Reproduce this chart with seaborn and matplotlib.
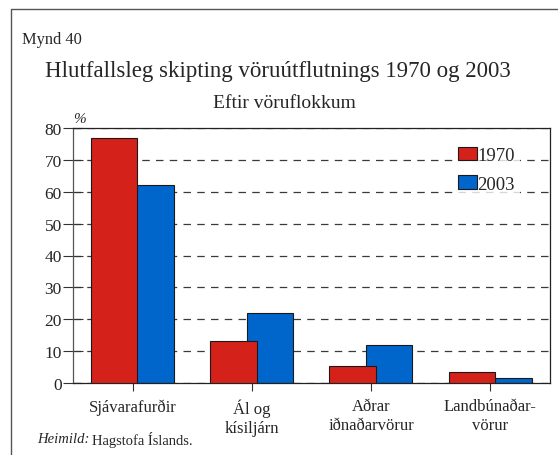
import matplotlib
matplotlib.use("Agg")
import matplotlib.pyplot as plt
import matplotlib.patches as mpatches
import matplotlib.lines as mlines
import seaborn as sns
import pandas as pd

# Vöruflokkar og hlutfall (%) af vöruútflutningi
flokkar = ["Sjávarafurðir", "Ál og\nkísiljárn", "Aðrar\niðnaðarvörur", "Landbúnaðar-\nvörur"]
ar = ["1970", "2003"]
hlutfall_1970 = [77.0, 13.2, 5.2, 3.4]
hlutfall_2003 = [62.2, 22.0, 11.9, 1.7]
y_ticks = [0, 10, 20, 30, 40, 50, 60, 70, 80]

litir = {"1970": "#D4211A", "2003": "#0066CC"}

df = pd.DataFrame({
    "flokkur": flokkar * 2,
    "ár": [ar[0]] * len(flokkar) + [ar[1]] * len(flokkar),
    "hlutfall": hlutfall_1970 + hlutfall_2003,
})

sns.set_theme(style="white")
plt.rcParams["font.family"] = ["Liberation Serif", "DejaVu Serif"]

fig = plt.figure(figsize=(5.58, 4.56), dpi=100)
ax = fig.add_axes([73 / 558, 1 - 384 / 456, (550 - 73) / 558, (384 - 129) / 456])

sns.barplot(data=df, x="flokkur", y="hlutfall", hue="ár", hue_order=ar,
            palette=litir, width=0.78, gap=0, saturation=1, legend=False,
            edgecolor="#1a1a1a", linewidth=0.8, ax=ax)

# 1970-súlan liggur ofan á 2003-súlunni (skörun)
for bar in ax.containers[0]:
    bar.set_x(bar.get_x() + 0.04)
    bar.set_zorder(3)
for bar in ax.containers[1]:
    bar.set_x(bar.get_x() - 0.045)
    bar.set_zorder(2)

ax.set_xlim(-0.5, 3.5)
ax.set_ylim(0, 80)
ax.set_yticks(y_ticks)
ax.set_yticklabels([str(t) for t in y_ticks], fontsize=12.5)
ax.set_xlabel("")
ax.set_ylabel("")
ax.tick_params(axis="x", labelsize=12, length=6, width=0.8, color="#333333",
               direction="out", bottom=True, pad=5)
ax.tick_params(axis="y", length=14, width=0.8, color="#333333",
               direction="inout", left=True, pad=1)
for lab in ax.get_xticklabels():
    lab.set_linespacing(1.25)

ax.yaxis.grid(True, linestyle=(0, (6, 5)), color="#3a3a3a", linewidth=0.9)
ax.set_axisbelow(True)
for side in ["left", "right", "top", "bottom"]:
    ax.spines[side].set_visible(True)
    ax.spines[side].set_color("#222222")
    ax.spines[side].set_linewidth(0.9)
ax.spines["left"].set_color("#555555")

handles = [mpatches.Patch(facecolor=litir[a], edgecolor="#1a1a1a", linewidth=0.8, label=a) for a in ar]
leg = ax.legend(handles=handles, loc="upper left", bbox_to_anchor=(0.8, 0.94),
                frameon=True, fontsize=13.5, handlelength=1.0, handleheight=0.7,
                handletextpad=0.0, labelspacing=0.6, borderpad=0.2, borderaxespad=0)
leg.get_frame().set_facecolor("white")
leg.get_frame().set_edgecolor("white")
leg.get_frame().set_linewidth(0)
leg.get_frame().set_boxstyle("square", pad=0.1)

ax.text(0.0, 1.01, "%", transform=ax.transAxes, fontsize=11, style="italic",
        ha="left", va="bottom")

fig.text(22 / 558, 1 - 40 / 456, "Mynd 40", fontsize=11.8, ha="left", va="center")
fig.text(278 / 558, 1 - 71 / 456, "Hlutfallsleg skipting vöruútflutnings 1970 og 2003",
         fontsize=16.5, ha="center", va="center")
fig.text(284 / 558, 1 - 104 / 456, "Eftir vöruflokkum", fontsize=14, ha="center", va="center")

# Heimild: skáletrað orð og síðan venjulegur texti beint á eftir
heimild = fig.text(37 / 558, 1 - 440 / 456, "Heimild:", fontsize=10.5, style="italic",
                   ha="left", va="center")
fig.canvas.draw()
bb = heimild.get_window_extent()
fig.text((bb.x1 + 3) / (5.58 * 100), 1 - 440 / 456, "Hagstofa Íslands.", fontsize=10.5,
         ha="left", va="center")

# Rammi um myndina
fig.add_artist(mlines.Line2D([10.5 / 558, 10.5 / 558, 1.0], [0.0, 1 - 9.5 / 456, 1 - 9.5 / 456],
                             transform=fig.transFigure, color="#555555", linewidth=1.0))

fig.savefig("out.png", dpi=100, facecolor="white")
